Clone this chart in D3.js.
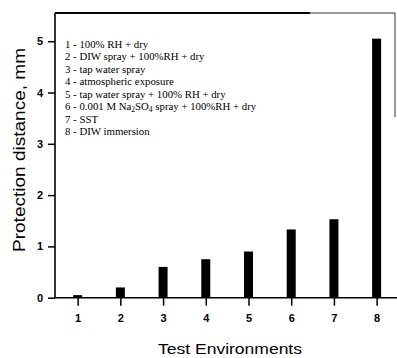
<!DOCTYPE html>
<html><head><meta charset="utf-8">
<script src="https://cdn.jsdelivr.net/npm/d3@7"></script>
<style>body{margin:0;background:#fff}svg{display:block}</style>
</head><body>
<svg id="c" width="397" height="358"></svg>
<script>
const categories = [1, 2, 3, 4, 5, 6, 7, 8];
const values = [0.05, 0.2, 0.6, 0.75, 0.9, 1.33, 1.53, 5.05];
const yTicks = [0, 1, 2, 3, 4, 5];
const legendLines = [
  ["1 - 100% RH + dry"],
  ["2 - DIW spray + 100%RH + dry"],
  ["3 - tap water spray"],
  ["4 - atmospheric exposure"],
  ["5 - tap water spray + 100% RH + dry"],
  ["6 - 0.001 M Na", "2", "SO", "4", " spray + 100%RH + dry"],
  ["7 - SST"],
  ["8 - DIW immersion"]
];

const svg = d3.select("#c");
const L = 55, R = 395, T = 13, B = 297.7;
const x = d3.scaleLinear().domain([0.47, 8.43]).range([L, R]);
const y = d3.scaleLinear().domain([0, 5.55]).range([B, T]);

// frame: left, top (thick part + thin part), partial right, bottom
svg.append("line").attr("x1", L).attr("x2", L).attr("y1", T).attr("y2", B)
  .attr("stroke", "#000").attr("stroke-width", 1.6);
svg.append("line").attr("x1", L).attr("x2", 310).attr("y1", T).attr("y2", T)
  .attr("stroke", "#000").attr("stroke-width", 2);
svg.append("line").attr("x1", 310).attr("x2", R).attr("y1", T).attr("y2", T)
  .attr("stroke", "#000").attr("stroke-width", 0.8);
svg.append("line").attr("x1", R).attr("x2", R).attr("y1", T).attr("y2", 117)
  .attr("stroke", "#000").attr("stroke-width", 0.8);
svg.append("line").attr("x1", L).attr("x2", 397).attr("y1", B).attr("y2", B)
  .attr("stroke", "#000").attr("stroke-width", 1.6);

// bars
svg.selectAll("rect.bar").data(categories).enter().append("rect")
  .attr("class", "bar")
  .attr("x", d => x(d) - 4.5)
  .attr("width", 9)
  .attr("y", (d, i) => y(values[i]))
  .attr("height", (d, i) => B - y(values[i]))
  .attr("fill", "#000");

// y axis
const yAxis = d3.axisLeft(y).tickValues(yTicks).tickSize(7).tickPadding(5).tickFormat(d3.format("d"));
const gy = svg.append("g").attr("transform", `translate(${L},0)`).call(yAxis);
gy.select(".domain").remove();
gy.selectAll("line").attr("stroke-width", 1.5);
gy.selectAll("text").attr("font-family", "Liberation Sans, Arial, sans-serif")
  .attr("font-size", 11).attr("font-weight", "bold").attr("fill", "#000");

// x axis
const xAxis = d3.axisBottom(x).tickValues(categories).tickSize(8).tickPadding(9).tickFormat(d3.format("d"));
const gx = svg.append("g").attr("transform", `translate(0,${B})`).call(xAxis);
gx.select(".domain").remove();
gx.selectAll("line").attr("stroke-width", 1.5);
gx.selectAll("text").attr("font-family", "Liberation Sans, Arial, sans-serif")
  .attr("font-size", 11).attr("font-weight", "bold").attr("fill", "#000");

// axis titles
svg.append("text").attr("x", 230).attr("y", 354).attr("text-anchor", "middle")
  .attr("font-family", "Liberation Sans, Arial, sans-serif").attr("font-size", 14)
  .attr("textLength", 144).attr("lengthAdjust", "spacingAndGlyphs")
  .attr("fill", "#000").text("Test Environments");
svg.append("text").attr("transform", "translate(25,150) rotate(-90)").attr("text-anchor", "middle")
  .attr("font-family", "Liberation Sans, Arial, sans-serif").attr("font-size", 16)
  .attr("textLength", 204).attr("lengthAdjust", "spacingAndGlyphs")
  .attr("fill", "#000").text("Protection distance, mm");

// legend
const lg = svg.append("g").attr("font-family", "Liberation Serif, Times New Roman, serif")
  .attr("font-size", 10.8).attr("fill", "#000");
legendLines.forEach((parts, i) => {
  const t = lg.append("text").attr("x", 65).attr("y", 47.5 + i * 12.5);
  parts.forEach((p, j) => {
    const ts = t.append("tspan").text(p);
    if (parts.length > 1 && (j === 1 || j === 3)) {
      ts.attr("font-size", 7.5).attr("dy", 2);
    } else if (parts.length > 1 && j > 0) {
      ts.attr("dy", -2);
    }
  });
});
</script>
</body></html>
